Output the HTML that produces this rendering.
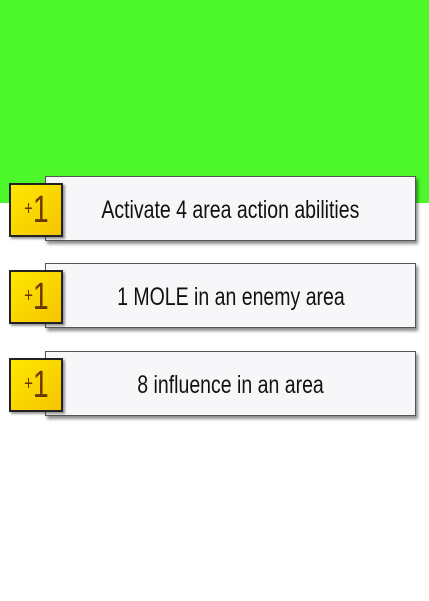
<!DOCTYPE html>
<html><head><meta charset="utf-8"><style>
body{margin:0;width:429px;height:601px;background:#fff;position:relative;overflow:hidden;font-family:"Liberation Sans Narrow","Liberation Sans",sans-serif}
.green{position:absolute;left:0;top:0;width:429px;height:203px;background:#4cf72a}
.card{position:absolute;left:45px;width:369px;height:63px;background:#f7f7f9;border:1px solid #555;box-shadow:2px 3px 3px rgba(0,0,0,.45);display:flex;align-items:center;justify-content:center;font-size:25px;color:#111}
.card span{display:inline-block;transform:scaleX(0.78);white-space:nowrap;margin-top:4px}
.badge{position:absolute;left:9px;width:50px;height:50px;background:linear-gradient(135deg,#ffe800,#f5c400);border:2px solid #222;box-shadow:2px 2px 2px rgba(0,0,0,.4);color:#6a3a00;display:flex;align-items:center;justify-content:center}
.badge b{font-weight:normal;display:flex;align-items:center;transform:scaleX(0.75);white-space:nowrap}
.badge .p{font-size:20px;margin-top:-2px}
.badge .n{font-size:38px;line-height:38px}
</style></head><body>
<div class="green"></div>
<div class="card" style="top:176px"><span>Activate 4 area action abilities</span></div>
<div class="badge" style="top:183px"><b><span class="p">+</span><span class="n">1</span></b></div>
<div class="card" style="top:263px"><span>1 MOLE in an enemy area</span></div>
<div class="badge" style="top:270px"><b><span class="p">+</span><span class="n">1</span></b></div>
<div class="card" style="top:351px"><span>8 influence in an area</span></div>
<div class="badge" style="top:358px"><b><span class="p">+</span><span class="n">1</span></b></div>
</body></html>
